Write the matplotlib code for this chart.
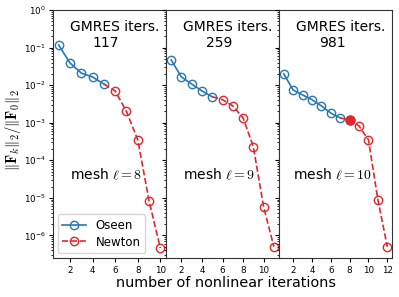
import numpy as np
import matplotlib
matplotlib.use("Agg")
import matplotlib.pyplot as plt
from matplotlib.lines import Line2D

plt.rcParams['mathtext.fontset'] = 'cm'
plt.rcParams['font.family'] = ['DejaVu Sans']

meshes = [8, 9, 10]
gmres_iters = [117, 259, 981]

oseen_x = [[1, 2, 3, 4, 5],
           [1, 2, 3, 4, 5],
           [1, 2, 3, 4, 5, 6, 7]]
oseen_y = [[0.117, 0.039, 0.021, 0.0165, 0.0107],
           [0.047, 0.0165, 0.0107, 0.0070, 0.0049],
           [0.020, 0.0074, 0.0055, 0.0041, 0.0028, 0.0018, 0.00134]]

newton_x = [[6, 7, 8, 9, 10],
            [6, 7, 8, 9, 10, 11],
            [8, 9, 10, 11, 12]]
newton_y = [[0.0070, 0.0020, 3.5e-4, 8.3e-6, 4.6e-7],
            [0.0041, 0.0028, 0.00134, 2.3e-4, 5.8e-6, 5.0e-7],
            [0.00118, 8.2e-4, 3.5e-4, 8.9e-6, 5.0e-7]]
filled_first = [False, False, True]

xlims = [(0.5, 10.5), (0.5, 11.5), (0.5, 12.5)]
xticks = [[2, 4, 6, 8, 10], [2, 4, 6, 8, 10], [2, 4, 6, 8, 10, 12]]

blue = '#2878b5'
red = '#e3262b'

fig = plt.figure(figsize=(3.99, 2.97), dpi=100)
left, right, bottom, top = 53/399, 392/399, 39/297, 287/297
w = (right - left) / 3
axes = []
for i in range(3):
    ax = fig.add_axes([left + i*w, bottom, w, top - bottom],
                      sharey=axes[0] if axes else None)
    axes.append(ax)

for i, ax in enumerate(axes):
    ax.plot(oseen_x[i], oseen_y[i], '-o', color=blue, mfc='none',
            ms=6, lw=1.2, mew=1.0, label='Oseen')
    lx = [oseen_x[i][-1]] + newton_x[i]
    ly = [oseen_y[i][-1]] + newton_y[i]
    ax.plot(lx, ly, '--', color=red, lw=1.2)
    ax.plot(newton_x[i], newton_y[i], 'o', color=red, mfc='none',
            ms=6, mew=1.0)
    if filled_first[i]:
        ax.plot(newton_x[i][0], newton_y[i][0], 'o', color=red, ms=6.5)
    ax.set_yscale('log')
    ax.set_ylim(2.5e-7, 1.0)
    ax.set_xlim(*xlims[i])
    ax.set_xticks(xticks[i])
    ax.tick_params(axis='both', labelsize=6.3, length=3, width=0.8, pad=2.5)
    ax.tick_params(axis='y', which='minor', length=1.8, width=0.6)
    for s in ax.spines.values():
        s.set_color('#333333')
    if i > 0:
        ax.tick_params(axis='y', which='both', labelleft=False)
    ax.text(0.55, 0.931, 'GMRES iters.', transform=ax.transAxes,
            ha='center', va='center', fontsize=10)
    ax.text(0.47, 0.867, str(gmres_iters[i]), transform=ax.transAxes,
            ha='center', va='center', fontsize=10)
    ax.text(0.47, 0.335, r'mesh $\ell = %d$' % meshes[i], transform=ax.transAxes,
            ha='center', va='center', fontsize=10)

h = [Line2D([], [], color=blue, marker='o', mfc='none', ms=6, lw=1.2),
     Line2D([], [], color=red, marker='o', mfc='none', ms=6, lw=1.2, ls='--')]
axes[0].legend(h, ['Oseen', 'Newton'], loc='lower left', fontsize=8.5,
               handlelength=2.0, borderaxespad=0.4, labelspacing=0.3)

fig.text(13/399, 1 - 130/297, r'$\|\mathbf{F}_k\|_2/\|\mathbf{F}_0\|_2$',
         rotation=90, ha='center', va='center', fontsize=10.5)
fig.text(226/399, 1 - 283/297, 'number of nonlinear iterations',
         ha='center', va='center', fontsize=10.4)

fig.savefig('out.png', dpi=100)
